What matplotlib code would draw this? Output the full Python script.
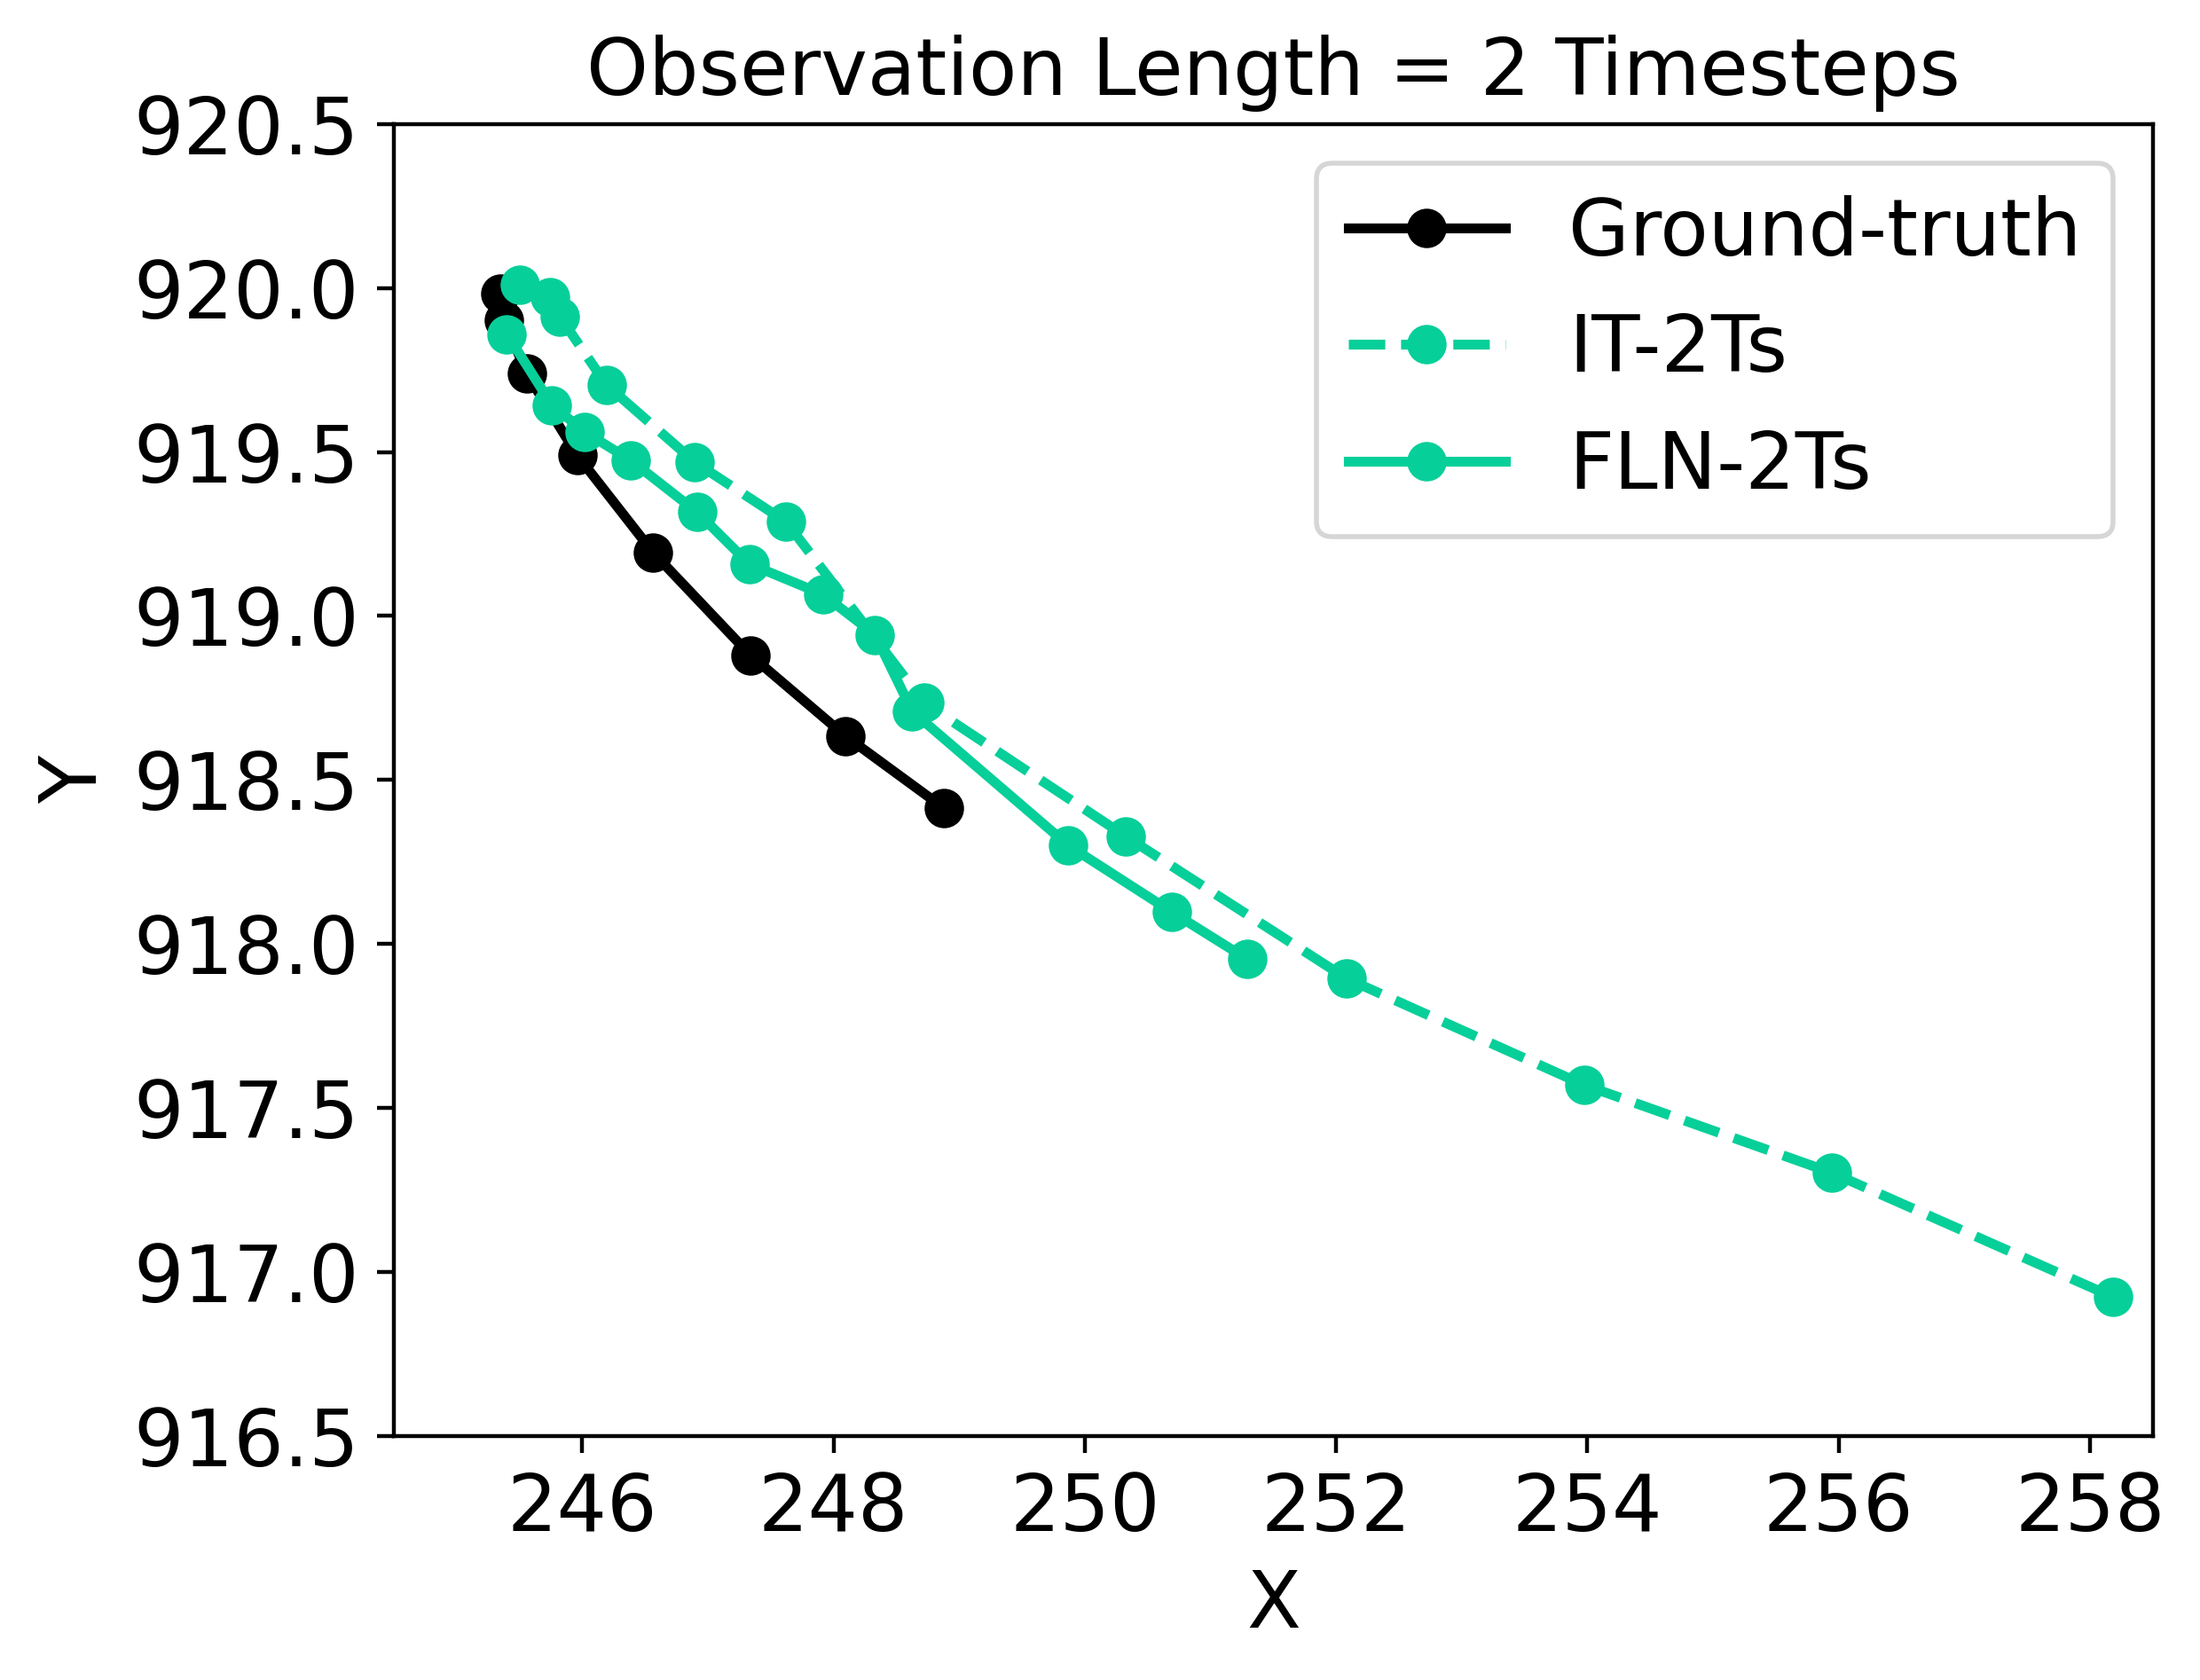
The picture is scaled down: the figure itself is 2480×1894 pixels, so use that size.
import matplotlib
matplotlib.use("Agg")
import matplotlib.pyplot as plt

# Data
gt_x = [245.351, 245.379, 245.557, 245.960, 246.565, 247.340, 248.095, 248.876]
gt_y = [919.984, 919.903, 919.740, 919.490, 919.193, 918.880, 918.634, 918.415]

it_x = [245.500, 245.741, 245.824, 246.192, 246.897, 247.623, 248.722, 250.329,
        252.086, 253.973, 255.947, 258.184]
it_y = [920.010, 919.973, 919.912, 919.705, 919.469, 919.287, 918.735, 918.327,
        917.894, 917.570, 917.302, 916.923]

fln_x = [245.400, 245.759, 246.022, 246.389, 246.913, 247.329, 247.915, 248.330,
         248.627, 249.870, 250.694, 251.295]
fln_y = [919.860, 919.643, 919.561, 919.474, 919.317, 919.159, 919.066, 918.943,
         918.709, 918.300, 918.097, 917.953]

labels = ["Ground-truth", "IT-2Ts", "FLN-2Ts"]
title = "Observation Length = 2 Timesteps"
green = "#07CF99"

fig = plt.figure(figsize=(6.2, 4.735), dpi=400)
ax = fig.add_axes([0.1790, 0.1454, 0.7995, 0.7807])

ax.plot(gt_x, gt_y, color="black", linestyle="-", marker="o", linewidth=2,
        markersize=7, label=labels[0])
ax.plot(it_x, it_y, color=green, linestyle="--", marker="o", linewidth=2,
        markersize=7, label=labels[1])
ax.plot(fln_x, fln_y, color=green, linestyle="-", marker="o", linewidth=2,
        markersize=7, label=labels[2])

ax.set_xlim(244.5, 258.5)
ax.set_ylim(916.5, 920.5)
ax.set_xticks([246, 248, 250, 252, 254, 256, 258])
ax.set_yticks([916.5, 917.0, 917.5, 918.0, 918.5, 919.0, 919.5, 920.0, 920.5])
ax.tick_params(labelsize=16)
ax.set_xlabel("X", fontsize=16)
ax.set_ylabel("Y", fontsize=16)
ax.set_title(title, fontsize=16)
ax.legend(loc="upper right", fontsize=16)

fig.savefig("out.png", dpi=400)
